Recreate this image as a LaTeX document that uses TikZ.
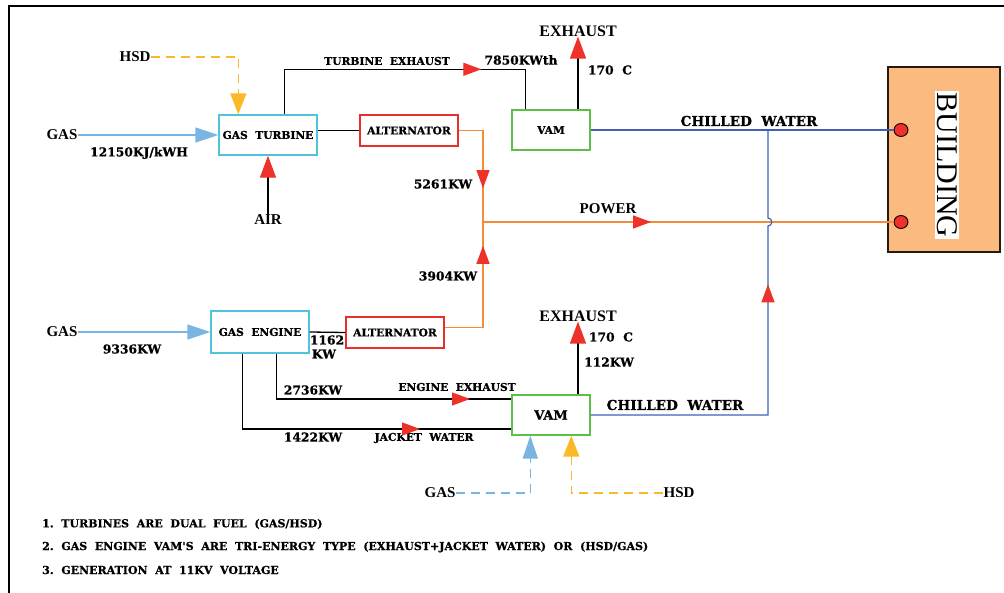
\documentclass[tikz,border=0pt]{standalone}
\usepackage{fontspec}
\setmainfont{Liberation Serif}
\newfontfamily\slabf{DejaVu Serif}[BoldFeatures={FakeBold=0.8}]
\usetikzlibrary{arrows.meta,decorations.markings,shapes.geometric}
\definecolor{arrred}{HTML}{EE3129}
\definecolor{boxcyan}{HTML}{4FC3DB}
\definecolor{boxred}{HTML}{E8302A}
\definecolor{boxgreen}{HTML}{5DBE4A}
\definecolor{pwrorange}{HTML}{F28C38}
\definecolor{cwblue}{HTML}{4060B8}
\definecolor{gasblue}{HTML}{7AB4E0}
\definecolor{hsdyellow}{HTML}{FBB829}
\definecolor{bldfill}{HTML}{FBBB80}
\begin{document}
\begin{tikzpicture}[x=1pt,y=-1pt,
  lblB/.style={font=\fontsize{15}{15}\selectfont\bfseries, inner sep=0pt},
  lblM/.style={font=\slabf\bfseries\fontsize{12.3}{12.3}\selectfont, inner sep=0pt},
  lblC/.style={font=\slabf\bfseries\fontsize{13.6}{13.6}\selectfont, inner sep=0pt},
  lblS/.style={font=\slabf\bfseries\fontsize{10.7}{10.7}\selectfont, inner sep=0pt},
  lblN/.style={font=\slabf\bfseries\fontsize{11}{11}\selectfont, inner sep=0pt, anchor=west},
  box/.style={draw, line width=1.4pt, inner sep=0pt, fill=white},
  cyanbox/.style={box, draw=boxcyan, minimum width=98pt},
  redbox/.style={box, draw=boxred, minimum width=98pt, minimum height=31pt},
  greenbox/.style={box, draw=boxgreen, minimum width=78pt, minimum height=40pt},
  blk/.style={line width=1.3pt, black},
  tipR/.style={-{Triangle[length=22pt,width=16pt,color=arrred]}},
  tipGas/.style={-{Triangle[length=23pt,width=15pt,color=gasblue]}},
  tipHsd/.style={-{Triangle[length=21pt,width=16pt,color=hsdyellow]}},
  midtip/.style={postaction={decorate,decoration={markings,
      mark=at position #1 with {\arrow{Triangle[length=18pt,width=13pt,color=arrred]}}}}},
  gasline/.style={line width=1.6pt, gasblue},
  hsdline/.style={line width=1.6pt, hsdyellow, dash pattern=on 9pt off 6pt},
  gasdash/.style={line width=1.6pt, gasblue, dash pattern=on 9pt off 6pt},
  pwr/.style={line width=1.4pt, pwrorange},
  cw/.style={line width=1.2pt, cwblue},
  conn/.style={ellipse, draw=black, line width=0.9pt, fill=arrred, minimum width=14pt, minimum height=13pt, inner sep=0pt}
]
\useasboundingbox (0,0) rectangle (1004,593);
% frame
\draw[line width=1.5pt] (9,593) -- (9,6) -- (1004,6);

% ---------- nodes ----------
\node[cyanbox, minimum height=40pt, lblS] (gt) at (268,135) {GAS~~TURBINE};
\node[redbox, lblS] (alt1) at (409,130.5) {ALTERNATOR};
\node[greenbox, lblS] (vam1) at (551,130) {VAM};
\node[cyanbox, minimum height=42pt, lblS] (ge) at (260,332) {GAS~~ENGINE};
\node[redbox, lblS] (alt2) at (395,332.5) {ALTERNATOR};
\node[greenbox, font=\slabf\bfseries\fontsize{13}{13}\selectfont] (vam2) at (551,415) {VAM};
\node[draw=black!80!brown, line width=1.3pt, fill=bldfill, minimum width=112pt, minimum height=185pt] (bld) at (944,159.5) {};
\node[rotate=-90, fill=white, inner sep=1.5pt, font=\fontsize{30}{30}\selectfont] (bldtxt) at (947,165) {BUILDING};
\node[conn] (c1) at (901,130) {};
\node[conn] (c2) at (901,222) {};

\node[lblB] (hsd1) at (135,57) {HSD};
\node[lblB] (gas1) at (62,135) {GAS};
\node[lblB] (air) at (268,220) {AIR};
\node[lblB, font=\fontsize{16}{16}\selectfont\bfseries] (ex1) at (578,31) {EXHAUST};
\node[lblB, font=\fontsize{16}{16}\selectfont\bfseries] (ex2) at (578,316) {EXHAUST};
\node[lblB] (gas2) at (62,332) {GAS};
\node[lblB] (gas3) at (440,493) {GAS};
\node[lblB] (hsd2) at (679,493) {HSD};
\node[lblB] (power) at (608,209) {POWER};

\node[lblM] (l1) at (139,153) {12150KJ/kWH};
\node[lblS] (l2) at (387,61) {TURBINE~~EXHAUST};
\node[lblM] (l3) at (521,60) {7850KWth};
\node[lblM] (l4) at (610,70) {170~~C};
\node[lblM] (l5) at (443,184) {5261KW};
\node[lblC] (l6) at (749,121) {CHILLED~~WATER};
\node[lblM] (l7) at (448,276) {3904KW};
\node[lblM] (l8) at (132,349) {9336KW};
\node[lblM] (l9) at (327,340) {1162};
\node[lblM] (l10) at (324,354) {KW};
\node[lblM] (l11) at (611,337) {170~~C};
\node[lblM] (l12) at (609,362) {112KW};
\node[lblM] (l13) at (313,390) {2736KW};
\node[lblS] (l14) at (457,387) {ENGINE~~EXHAUST};
\node[lblM] (l15) at (313,437) {1422KW};
\node[lblS] (l16) at (424,438) {JACKET~~WATER};
\node[lblC] (l17) at (675,405) {CHILLED~~WATER};

\node[lblN] (n1) at (42,524) {1.~~TURBINES~~ARE~~DUAL~~FUEL~~(GAS/HSD)};
\node[lblN] (n2) at (42,547) {2.~~GAS~~ENGINE~~VAM'S~~ARE~~TRI-ENERGY~~TYPE~~(EXHAUST+JACKET~~WATER)~~OR~~(HSD/GAS)};
\node[lblN] (n3) at (42,570) {3.~~GENERATION~~AT~~11KV~~VOLTAGE};

\coordinate (pj) at (483,222);
\coordinate (cwj) at (768,130);
\coordinate (jl) at (768,226);
\coordinate (ju) at (768,218);

% ---------- connectors ----------
% turbine side
\draw[hsdline, tipHsd] (hsd1.east) -| ([xshift=20pt]gt.north west);
\draw[gasline, tipGas] (gas1.east) -- (gt.west);
\draw[blk, tipR] (air.north) -- (gt.south);
\draw[blk, midtip=242pt] ([xshift=66pt]gt.north west) -- ++(0,-45) -| ([xshift=14pt]vam1.north west);
\draw[blk] (alt1.west -| gt.east) -- (alt1.west);
\draw[pwr, midtip=82pt] (alt1.east) -| (pj);
\draw[blk, tipR] (ex1.south |- vam1.north) -- (ex1.south);
\draw[cw] (vam1.east) -- (c1.west);
\draw[pwr, midtip=168pt] (pj) -- (c2.west);

% engine side
\draw[gasline, tipGas] (gas2.east) -- (ge.west);
\draw[blk] (ge.east) -- (alt2.west);
\draw[pwr, midtip=120pt] ([yshift=5pt]alt2.east) -| (pj);
\draw[blk, midtip=239pt] ([xshift=66pt]ge.south west) |- ([yshift=16pt]vam2.west);
\draw[blk, midtip=253pt] ([xshift=32pt]ge.south west) |- ([yshift=-14pt]vam2.west);
\draw[blk, tipR] (ex2.south |- vam2.north) -- (ex2.south);
\draw[cw, midtip=308pt] (vam2.east) -- (vam2.east -| cwj) -- (jl)
   .. controls ([xshift=5pt]jl) and ([xshift=5pt]ju) .. (ju) -- (cwj);
\draw[gasdash, tipGas] (gas3.east) -| ([xshift=19pt]vam2.south west);
\draw[hsdline, tipHsd] (hsd2.west) -| ([xshift=60pt]vam2.south west);
\end{tikzpicture}
\end{document}
